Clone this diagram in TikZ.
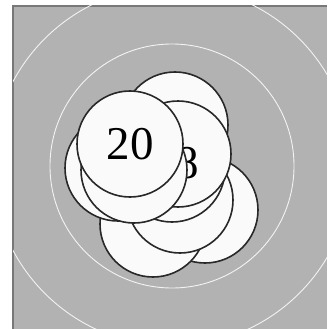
\documentclass[tikz,border=0pt]{standalone}
\usepackage{fontspec}
\setmainfont{Liberation Serif}
\definecolor{board}{RGB}{178,178,178}
\definecolor{boardedge}{RGB}{120,120,120}
\definecolor{coinfill}{RGB}{250,250,250}
\definecolor{coinline}{RGB}{40,40,40}
\tikzset{
  coin/.style={circle, draw=coinline, fill=coinfill, line width=1.6pt,
    minimum size=106pt, inner sep=0pt, font=\fontsize{47}{47}\selectfont},
  ring/.style={draw=white!85!board, line width=0.9pt}
}
\begin{document}
\begin{tikzpicture}[x=1pt, y=-1pt]
    \useasboundingbox (0, 0) rectangle (327, 329);
    % board and rings
    \fill[board] (13, 6) rectangle (327, 329);
    \draw[boardedge, line width=1.2pt] (13, 329) -- (13, 6) -- (327, 6);
    \begin{scope}
        \clip (13, 6) rectangle (327, 329);
        \draw[ring] (172, 166) circle (122);
        \draw[ring] (172, 166) circle (180);
    \end{scope}

    % the pile, back to front
    \node[coin] (coinB) at (205, 210) {};
    \node[coin] (coinA) at (153, 224) {};
    \node[coin] (coinC) at (180, 200) {};
    \node[coin] (coinD) at (175, 125) {};
    \node[coin] (coinE) at (172, 169) {};
    \node[coin] (coinF) at (178, 154) {};
    \node[font=\fontsize{47}{47}\selectfont] (lbl8) at (187, 163) {8};
    \node[coin] (coinL) at (118, 168) {};
    \node[coin] (coinM) at (134, 170) {};
    \node[coin] (coin20) at (130, 144) {20};
\end{tikzpicture}
\end{document}
